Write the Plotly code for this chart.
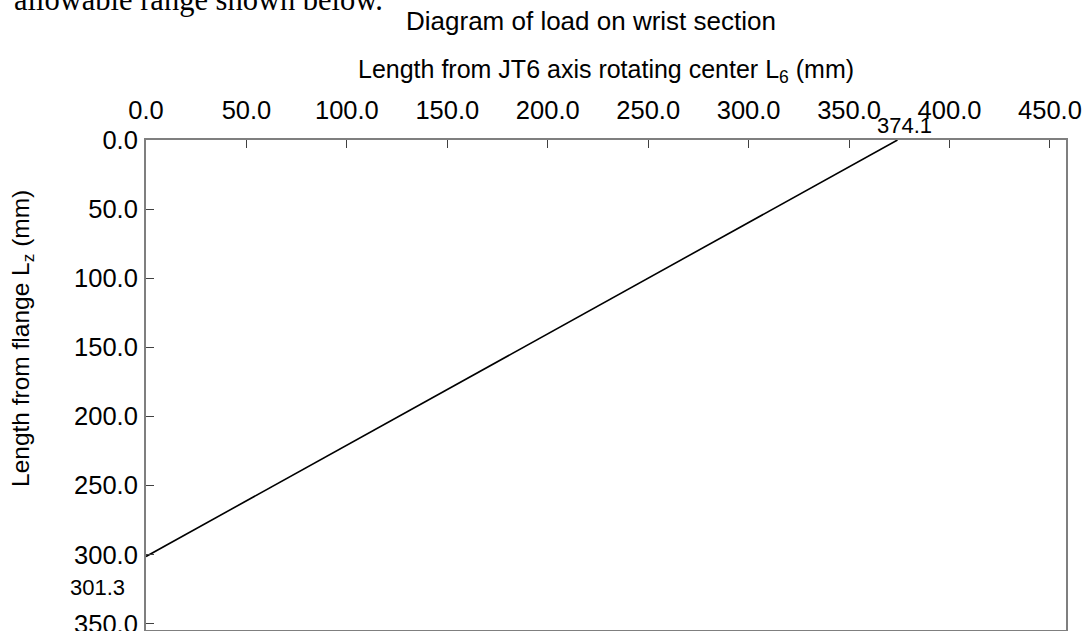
import plotly.graph_objects as go

# Allowable-load boundary on the wrist section
boundary_l6 = [374.1, 0.0]   # length from JT6 axis rotating center (mm)
boundary_lz = [0.0, 301.3]   # length from flange (mm)

x_ticks = [0, 50, 100, 150, 200, 250, 300, 350, 400, 450]
y_ticks = [0, 50, 100, 150, 200, 250, 300, 350]

W, H = 1084, 631
L, R, T, B = 146, 18, 140, 1
PW, PH = W - L - R, H - T - B


def px(X):
    return (X - L) / PW


def py(Y):
    return (H - B - Y) / PH


sans = "Liberation Sans, Arial, sans-serif"

fig = go.Figure()
fig.add_trace(go.Scatter(
    x=boundary_l6, y=boundary_lz, mode="lines",
    line=dict(color="black", width=1.6),
    showlegend=False, hoverinfo="skip", cliponaxis=False,
))

axis_common = dict(
    showgrid=False, zeroline=False, showline=True, mirror=True,
    linecolor="#7f7f7f", linewidth=2,
    ticks="inside", ticklen=8, tickwidth=1, tickcolor="#404040",
    tickfont=dict(family=sans, size=25.5, color="black"),
    ticklabeloverflow="allow", automargin=False,
)

fig.update_xaxes(
    side="top", range=[0, 458],
    tickvals=x_ticks, ticktext=[f"{v:.1f}" for v in x_ticks],
    ticklabelstandoff=9,
    **axis_common,
)
fig.update_yaxes(
    range=[354.5, 0],
    tickvals=y_ticks, ticktext=[f"{v:.1f}" for v in y_ticks],
    ticklabelstandoff=1,
    **axis_common,
)

annotations = [
    # running text above the chart
    dict(text="allowable range shown below.", x=px(12), y=py(0), xanchor="left",
         yanchor="middle", font=dict(family="Liberation Serif, Times New Roman, serif",
                                     size=30.5, color="black")),
    dict(text="Diagram of load on wrist section", x=px(591), y=py(21),
         xanchor="center", yanchor="middle",
         font=dict(family=sans, size=26, color="black")),
    dict(text="Length from JT6 axis rotating center L<sub>6</sub> (mm)",
         x=px(606), y=py(71), xanchor="center", yanchor="middle",
         font=dict(family=sans, size=25, color="black")),
    dict(text="Length from flange L<sub>z</sub> (mm)", textangle=-90,
         x=px(22), y=py(339), xanchor="center", yanchor="middle",
         font=dict(family=sans, size=24.5, color="black")),
]
annotations = [dict(a, xref="paper", yref="paper", showarrow=False) for a in annotations]

# value labels at the two ends of the boundary line
annotations.append(dict(
    text=f"{boundary_l6[0]:.1f}", x=boundary_l6[0], y=boundary_lz[0],
    xref="x", yref="y", showarrow=False, xanchor="center", yanchor="bottom",
    xshift=7, yshift=0, font=dict(family=sans, size=22, color="black"),
))
annotations.append(dict(
    text=f"{boundary_lz[1]:.1f}", x=boundary_l6[1], y=boundary_lz[1],
    xref="x", yref="y", showarrow=False, xanchor="right", yanchor="middle",
    xshift=-19, yshift=-31, font=dict(family=sans, size=22, color="black"),
))

fig.update_layout(
    width=W, height=H,
    margin=dict(l=L, r=R, t=T, b=B, autoexpand=False),
    paper_bgcolor="white", plot_bgcolor="white",
    annotations=annotations,
)

fig.write_html("out.html")
